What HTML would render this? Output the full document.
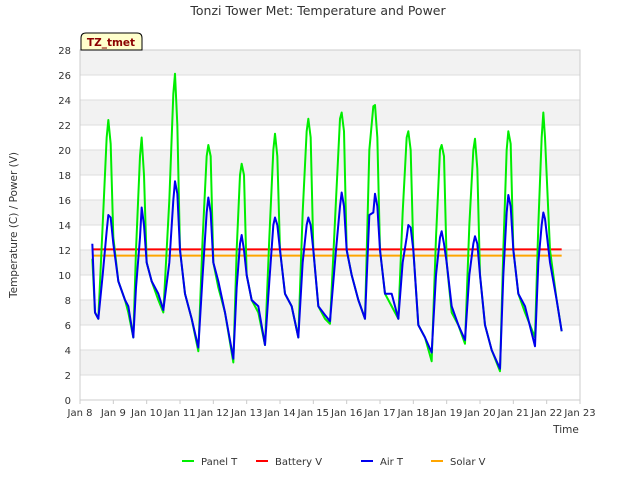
<!DOCTYPE html>
<html><head><meta charset="utf-8"><style>
body{margin:0;background:#fff;font-family:"DejaVu Sans",sans-serif}
</style></head><body>
<svg id="c" width="640" height="480" xmlns="http://www.w3.org/2000/svg" font-family="DejaVu Sans, Liberation Sans, sans-serif">
<text x="318" y="15" text-anchor="middle" font-size="12.5" fill="#333">Tonzi Tower Met: Temperature and Power</text>
<g id="bands"></g>
<g id="grid"></g>
<g id="series"></g>
<rect x="80" y="50" width="500" height="350" fill="none" stroke="#ccc"/>
<g id="yt"></g><g id="xt"></g>
<text x="17" y="225" transform="rotate(-90 17 225)" text-anchor="middle" font-size="10.5" fill="#333">Temperature (C) / Power (V)</text>
<text x="566" y="433" text-anchor="middle" font-size="10.5" fill="#333">Time</text>
<g>
<path d="M81 50 L81 38 Q81 33 86 33 L137 33 Q142 33 142 38 L142 50 Z" fill="#ffffcc" stroke="#000"/>
<text x="111" y="46" text-anchor="middle" font-size="10.5" font-weight="bold" fill="#8b0000">TZ_tmet</text>
</g>
<g id="legend"></g>
</svg>
<script>
const tPts=[0.37,0.45,0.55,0.68,0.8,0.85,0.92,1.0,1.15,1.35,1.45,1.6,1.68,1.8,1.85,1.92,2.0,2.15,2.35,2.5,2.68,2.8,2.85,2.92,3.0,3.15,3.35,3.55,3.68,3.8,3.85,3.92,4.0,4.15,4.35,4.6,4.7,4.8,4.85,4.92,5.0,5.15,5.35,5.55,5.68,5.8,5.85,5.92,6.0,6.15,6.35,6.55,6.68,6.8,6.85,6.92,7.0,7.15,7.35,7.5,7.68,7.8,7.85,7.92,8.0,8.15,8.35,8.55,8.68,8.8,8.85,8.92,9.0,9.15,9.35,9.55,9.68,9.8,9.85,9.92,10.0,10.15,10.35,10.55,10.68,10.8,10.85,10.92,11.0,11.15,11.35,11.55,11.68,11.8,11.85,11.92,12.0,12.15,12.35,12.6,12.7,12.8,12.85,12.92,13.0,13.15,13.35,13.65,13.75,13.85,13.9,13.95,14.1,14.3,14.45];
const panelT=[11.3,7,6.5,14,21,22.4,20.5,13,9.5,8,7,5,12,19.5,21,18,11,9.5,8,7,16,24.5,26.1,22,12,8.5,6.5,3.9,13,19.5,20.4,19.5,11,9,7,3,12,18,18.9,18,10,8,7,4.4,13,20,21.3,19.5,12,8.5,7.5,5,15,21.5,22.5,21,12,7.5,6.5,6.1,16,22.5,23,21.5,12,10,8,6.5,20,23.5,23.6,21,12,8.5,7.5,6.5,15,21,21.5,20,12,6,5,3.1,13,20,20.4,19.5,11,7,6,4.5,14,20,20.9,18.5,10,6,4,2.3,12,20,21.5,20.5,12,8.5,7,5,14,21,23,21,12,8,5.5];
const airT=[12.5,7,6.5,10,13.5,14.8,14.6,12.5,9.5,8,7.5,5,9,13,15.4,14,11,9.5,8.5,7.2,11,16,17.5,16.5,12,8.5,6.5,4.2,10,15,16.2,15,11,9.5,7,3.3,9,12.5,13.2,12,10,8,7.5,4.4,9.5,14,14.6,14,12,8.5,7.5,5,11,14,14.6,14,12,7.5,6.8,6.3,12,15.5,16.6,15.5,12,10,8,6.5,14.8,15,16.5,15.5,12,8.5,8.5,6.5,11,13,14,13.8,12,6,5,3.8,10,13,13.5,12.5,11,7.5,6,4.8,10,12.5,13.1,12.5,10,6,4,2.5,10,15,16.4,15.5,12,8.5,7.5,4.3,11,14,15,14.5,11,8,5.5];
const batTimes=[0.37,14.45];
const batteryV=[12.05,12.05];
const solarV=[11.55,11.55];
const yTicks=[0,2,4,6,8,10,12,14,16,18,20,22,24,26,28];
const xTickLabels=["Jan 8","Jan 9","Jan 10","Jan 11","Jan 12","Jan 13","Jan 14","Jan 15","Jan 16","Jan 17","Jan 18","Jan 19","Jan 20","Jan 21","Jan 22","Jan 23"];
const NS="http://www.w3.org/2000/svg";
const X=t=>80+t*500/15, Y=v=>400-v*350/28;
function mk(tag,attrs,parent){const e=document.createElementNS(NS,tag);for(const k in attrs)e.setAttribute(k,attrs[k]);document.getElementById(parent).appendChild(e);return e;}
for(let i=0;i<yTicks.length-1;i++){ if(i%2===1){const r=mk('rect',{x:80,y:Y(yTicks[i+1]),width:500,height:Y(yTicks[i])-Y(yTicks[i+1]),fill:'#f2f2f2'},'bands');

}}
yTicks.forEach(v=>{const l=mk('line',{x1:80,x2:580,y1:Y(v),y2:Y(v),stroke:'#ddd'},'grid');


const t=mk('text',{x:71,y:Y(v)+4,'text-anchor':'end','font-size':10,fill:'#333'},'yt');t.textContent=v;

});
xTickLabels.forEach((s,i)=>{const l=mk('line',{x1:X(i),x2:X(i),y1:400,y2:404,stroke:'#ccc'},'grid');


const t=mk('text',{x:X(i),y:416,'text-anchor':'middle','font-size':10,fill:'#333'},'xt');t.textContent=s;

});
function line(ts,vs,color,name){const p=mk('polyline',{points:ts.map((t,i)=>X(t)+','+Y(vs[i])).join(' '),fill:'none',stroke:color,'stroke-width':2,'stroke-linejoin':'round'},'series');

}
line(batTimes,solarV,'#ffa500','solar-v-line');
line(batTimes,batteryV,'#ff0000','battery-v-line');
line(tPts,panelT,'#00ee00','panel-t-line');
line(tPts,airT,'#0000ee','air-t-line');
const leg=[["Panel T","#00ee00",182],["Battery V","#ff0000",256],["Air T","#0000ee",361],["Solar V","#ffa500",431]];
leg.forEach(([n,c,x])=>{const g=mk('g',{},'legend');


const l=document.createElementNS(NS,'line');l.setAttribute('x1',x);l.setAttribute('x2',x+12);l.setAttribute('y1',461);l.setAttribute('y2',461);l.setAttribute('stroke',c);l.setAttribute('stroke-width',2);g.appendChild(l);
const t=document.createElementNS(NS,'text');t.setAttribute('x',x+19);t.setAttribute('y',465);t.setAttribute('font-size',10);t.setAttribute('fill','#333');t.textContent=n;g.appendChild(t);});
</script>
</body></html>
